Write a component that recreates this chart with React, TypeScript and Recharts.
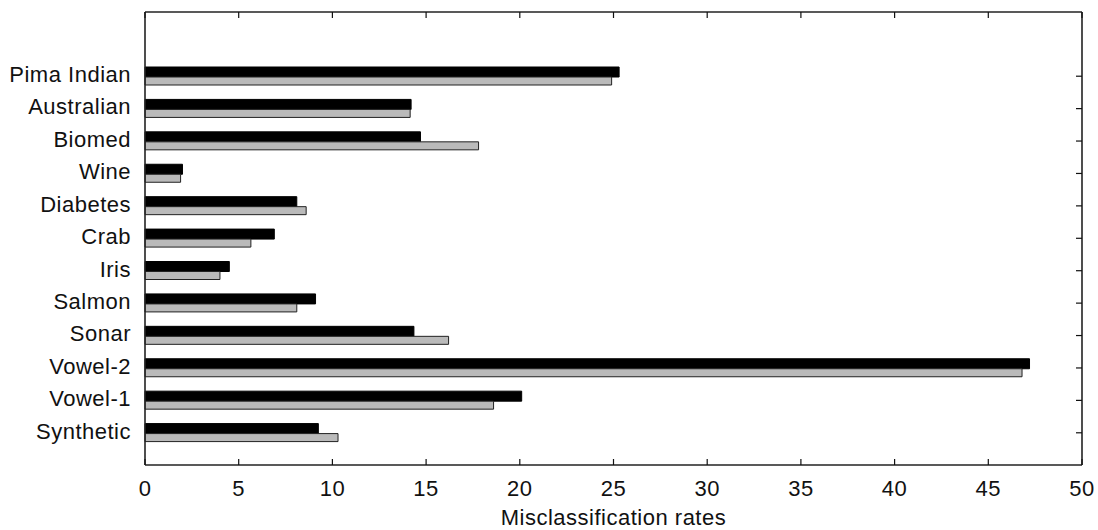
import React from "react"
import { Bar, BarChart, XAxis, YAxis, Label } from "recharts"

const datasets = [
  "Pima Indian",
  "Australian",
  "Biomed",
  "Wine",
  "Diabetes",
  "Crab",
  "Iris",
  "Salmon",
  "Sonar",
  "Vowel-2",
  "Vowel-1",
  "Synthetic",
]
const blackRates = [25.3, 14.2, 14.7, 2.0, 8.1, 6.9, 4.5, 9.1, 14.35, 47.2, 20.1, 9.25]
const grayRates = [24.9, 14.15, 17.8, 1.9, 8.6, 5.65, 4.0, 8.1, 16.2, 46.8, 18.6, 10.3]
const xTicks = [0, 5, 10, 15, 20, 25, 30, 35, 40, 45, 50]

const data = datasets.map((name, i) => ({ name, black: blackRates[i], gray: grayRates[i] }))

const FONT = "'Liberation Sans', Arial, Helvetica, sans-serif"
const INK = "#111"
const FRAME = { stroke: "#222", strokeWidth: 1.6 }

const BottomTick = ({ x, y, payload }: any) => (
  <g>
    <line x1={x} y1={y} x2={x} y2={y - 6} stroke={INK} strokeWidth={1.2} />
    <text x={x} y={y + 31} textAnchor="middle" fill={INK} fontSize={22} fontFamily={FONT} letterSpacing={0.5}>
      {payload.value}
    </text>
  </g>
)

const TopTick = ({ x, y }: any) => <line x1={x} y1={y} x2={x} y2={y + 6} stroke={INK} strokeWidth={1.2} />

const RightTick = ({ x, y }: any) => <line x1={x} y1={y} x2={x - 6} y2={y} stroke={INK} strokeWidth={1.2} />

export default function App() {
  return (
    <div style={{ position: "absolute", left: 0, top: 0, background: "#fff" }}>
      <BarChart
        width={1098}
        height={530}
        data={data}
        layout="vertical"
        margin={{ top: 11, right: 15, bottom: 0, left: 0 }}
        barGap={0}
      >
        <XAxis
          type="number"
          domain={[0, 50]}
          ticks={xTicks}
          height={65}
          axisLine={FRAME}
          tickLine={false}
          tickSize={0}
          tickMargin={0}
          tick={<BottomTick />}
          interval={0}
        >
          <Label
            value="Misclassification rates"
            position="insideBottom"
            offset={5}
            fill={INK}
            fontSize={22}
            fontFamily={FONT}
            letterSpacing={0.5}
          />
        </XAxis>
        <XAxis
          xAxisId="top"
          orientation="top"
          type="number"
          domain={[0, 50]}
          ticks={xTicks}
          height={1}
          axisLine={FRAME}
          tickLine={false}
          tickSize={0}
          tickMargin={0}
          tick={<TopTick />}
          interval={0}
        />
        <YAxis
          type="category"
          dataKey="name"
          width={145}
          padding={{ top: 48, bottom: 16 }}
          axisLine={FRAME}
          tickLine={false}
          tickSize={0}
          tickMargin={14}
          interval={0}
          tick={{ fill: INK, fontSize: 22, fontFamily: FONT, letterSpacing: 0.5, dy: -2 }}
        />
        <YAxis
          yAxisId="right"
          orientation="right"
          type="category"
          dataKey="name"
          width={1}
          padding={{ top: 48, bottom: 16 }}
          axisLine={FRAME}
          tickLine={false}
          tickSize={0}
          tickMargin={0}
          interval={0}
          tick={<RightTick />}
        />
        <Bar dataKey="black" fill="#000" stroke="#000" strokeWidth={1} barSize={10} isAnimationActive={false} />
        <Bar dataKey="gray" fill="#bababa" stroke="#222" strokeWidth={1} barSize={8} isAnimationActive={false} />
        {/* invisible series so the top and right frame axes get drawn */}
        <Bar
          dataKey="gray"
          xAxisId="top"
          yAxisId="right"
          fill="none"
          stroke="none"
          barSize={1}
          legendType="none"
          isAnimationActive={false}
        />
      </BarChart>
    </div>
  )
}
